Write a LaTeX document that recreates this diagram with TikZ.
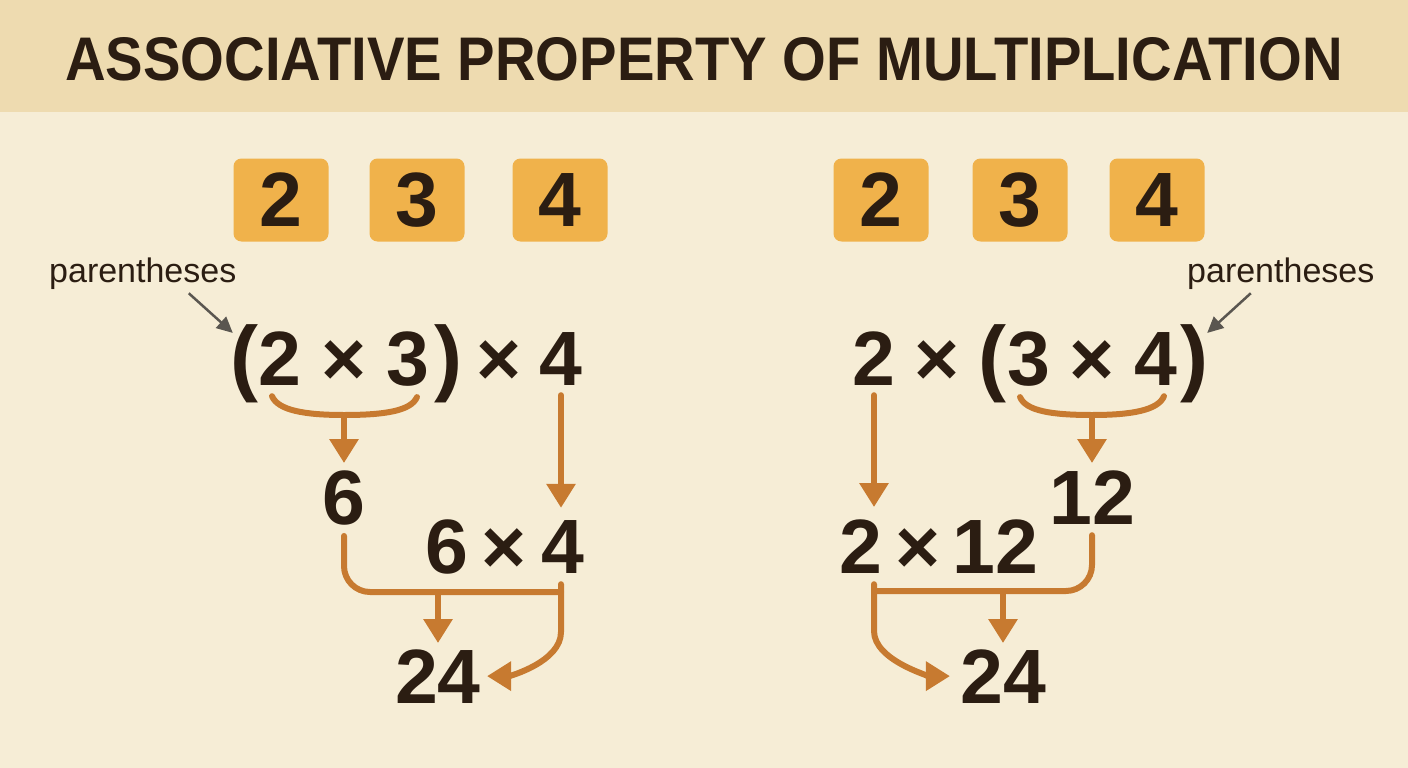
\documentclass[tikz,border=0pt]{standalone}
\usepackage{fontspec}
\usepackage{graphicx}
\setmainfont{Liberation Sans}
\usetikzlibrary{arrows.meta,calc}
\definecolor{bandtan}{HTML}{EEDBB0}
\definecolor{papercream}{HTML}{F6EDD6}
\definecolor{tileorange}{HTML}{F0B24B}
\definecolor{flowbrown}{HTML}{C77A30}
\definecolor{inkbrown}{HTML}{2B1D12}
\definecolor{notegray}{HTML}{5A5650}
\tikzset{
  numtile/.style={fill=tileorange, rounded corners=8pt, minimum width=95pt, minimum height=83pt,
    inner sep=0pt, text=inkbrown, font=\fontsize{77}{77}\selectfont\bfseries},
  glyph/.style={anchor=base, inner sep=0pt, text=inkbrown, font=\fontsize{77}{77}\selectfont\bfseries},
  paren/.style={glyph, font=\fontsize{84}{84}\selectfont\bfseries},
  note/.style={anchor=base west, inner sep=0pt, text=inkbrown, font=\fontsize{34}{34}\selectfont},
  flowline/.style={draw=flowbrown, line width=6pt, line cap=round},
  flowarrow/.style={flowline, -{Triangle[length=24pt,width=28pt]}},
  notearrow/.style={draw=notegray, line width=2.5pt, -{Triangle[length=16pt,width=15pt]}}
}
\begin{document}
\begin{tikzpicture}[x=1pt,y=-1pt]
    \useasboundingbox (0,0) rectangle (1408,768);
    \fill [papercream] (0,0) rectangle (1408,768);
    \fill [bandtan] (0,0) rectangle (1408,112);
    \node [text=inkbrown, inner sep=0pt] (title) at (704,59)
        {\resizebox{1277pt}{43pt}{\bfseries ASSOCIATIVE PROPERTY OF MULTIPLICATION}};

    \foreach \n/\x/\v in {lb2/281/2,lb3/417/3,lb4/560/4,rb2/881/2,rb3/1020/3,rb4/1157/4}
        {\node [numtile] (\n) at (\x,200) {\v};}

    \node [note] (lnote) at (49,282) {parentheses};
    \node [note] (rnote) at (1187,282) {parentheses};

    \node [paren] (lopen) at (244,385) {(};
    \node [paren] (lclose) at (448,385) {)};
    \node [paren] (ropen) at (992,385) {(};
    \node [paren] (rclose) at (1194,385) {)};
    \foreach \n/\x/\v in {l2/280/2,lx1/344/×,l3/408/3,lx2/499/×,l4/561/4,
                          r2/874/2,rx1/937/×,r3/1029/3,rx2/1092/×,r4/1156/4}
        {\node [glyph] (\n) at (\x,385) {\v};}

    \node [glyph] (l6) at (344,524) {6};
    \node [glyph] (r12) at (1092,524) {12};
    \foreach \n/\x/\v in {m6/447/6,mx/504/×,m4/563/4,n2/861/2,nx/918/×,n12/995/12}
        {\node [glyph] (\n) at (\x,573) {\v};}
    \node [glyph] (l24) at (438,703) {24};
    \node [glyph] (r24) at (1003,703) {24};

    \draw [notearrow] ($(lnote.south)+(46,4)$) -- ($(lopen.north west)+(3,9)$);
    \draw [notearrow] ($(rnote.south)+(-30,4)$) -- ($(rclose.north east)+(-1,9)$);

    \coordinate (lbrace) at (344,415);
    \coordinate (ljoin) at (561,592);
    \draw [flowline] ($(l2.south)+(-8,11)$) .. controls +(6,14) and +(-40,0) .. (lbrace)
        .. controls +(40,0) and +(-6,14) .. ($(l3.south)+(9,11)$);
    \draw [flowarrow, shorten >=7pt] (lbrace) -- (l6.north);
    \draw [flowarrow, shorten <=10pt, shorten >=12pt] (l4.south) -- (l4.south |- m4.north);
    \draw [flowline, rounded corners=26pt] ($(l6.south)+(0,11)$) |- (ljoin);
    \draw [flowarrow, shorten >=6pt] ($(ljoin |- m4.south)+(0,11)$) -- ($(ljoin)+(0,40)$)
        .. controls +(0,30) and +(28,0) .. (l24.east);
    \draw [flowarrow, shorten >=6pt] (l24.north |- ljoin) -- (l24.north);

    \coordinate (rbrace) at (1092,415);
    \coordinate (rjoin) at (874,591);
    \draw [flowline] ($(r3.south)+(-9,11)$) .. controls +(6,14) and +(-40,0) .. (rbrace)
        .. controls +(40,0) and +(-6,14) .. ($(r4.south)+(8,11)$);
    \draw [flowarrow, shorten >=7pt] (rbrace) -- (r12.north);
    \draw [flowarrow, shorten <=10pt, shorten >=12pt] (r2.south) -- (r2.south |- n2.north);
    \draw [flowline, rounded corners=26pt] ($(r12.south)+(0,11)$) |- (rjoin);
    \draw [flowarrow, shorten >=10pt] ($(rjoin |- n2.south)+(0,11)$) -- ($(rjoin)+(0,40)$)
        .. controls +(0,30) and +(-28,0) .. (r24.west);
    \draw [flowarrow, shorten >=6pt] (r24.north |- rjoin) -- (r24.north);
\end{tikzpicture}
\end{document}
